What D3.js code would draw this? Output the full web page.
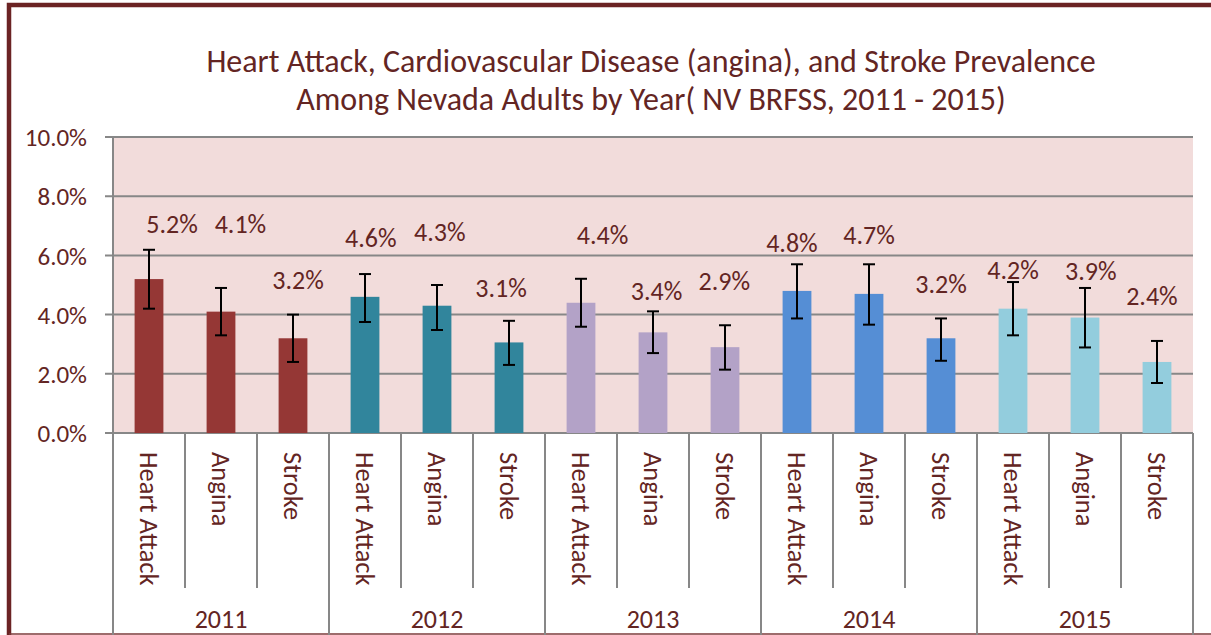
<!DOCTYPE html>
<meta charset="utf-8">
<html>
<head>
    <title>Heart Attack, Angina and Stroke Prevalence</title>
    <script src="https://cdn.jsdelivr.net/npm/d3@7"></script>
</head>
<style>
    body{
        margin: 0;
        background: #fff;
    }
    svg{
        display: block;
    }
    text{
        font-family: Carlito, Lato, sans-serif;
        fill: #632523;
    }
</style>
<body>
<svg width="1211" height="635"></svg>

<script>
    // ***************************************
    //        data
    // ***************************************
    const years = ["2011", "2012", "2013", "2014", "2015"];
    const measures = ["Heart Attack", "Angina", "Stroke"];
    const yearColors = ["#953735", "#31859c", "#b3a2c7", "#558ed5", "#93cddd"];
    // percent, in order year by year: Heart Attack, Angina, Stroke
    const prevalence = [5.2, 4.1, 3.2, 4.6, 4.3, 3.06, 4.4, 3.4, 2.9, 4.8, 4.7, 3.2, 4.2, 3.9, 2.4];
    const ciLow  = [4.2, 3.3, 2.4, 3.75, 3.48, 2.3, 3.59, 2.7, 2.14, 3.87, 3.66, 2.44, 3.3, 2.89, 1.69];
    const ciHigh = [6.19, 4.9, 4.0, 5.37, 5.0, 3.79, 5.21, 4.11, 3.64, 5.7, 5.7, 3.87, 5.1, 4.9, 3.11];
    // where each data label sits (percent level, shift across the band)
    const labelLevel = [6.77, 6.77, 4.87, 6.3, 6.5, 4.59, 6.4, 4.5, 4.84, 6.11, 6.4, 4.73, 5.2, 5.18, 4.31];
    const labelShift = [0.32, 0.27, 0.07, 0.08, 0.04, -0.11, 0.3, 0.05, -0.01, -0.07, 0, 0, 0, 0.08, -0.07];
    const yTicks = [0, 2, 4, 6, 8, 10];

    const rows = prevalence.map((v, i) => ({
        i: i,
        year: years[Math.floor(i / 3)],
        yi: Math.floor(i / 3),
        measure: measures[i % 3],
        value: v,
        lo: ciLow[i],
        hi: ciHigh[i]
    }));

    const svg = d3.select("svg");
    const plotL = 113, plotR = 1193, plotT = 137, plotB = 433;
    const grid = "#878787";
    const darkRed = "#632523";

    const x = d3.scaleBand()
        .domain(d3.range(rows.length))
        .range([plotL, plotR])
        .padding(0);
    const xYear = d3.scaleBand()
        .domain(years)
        .range([plotL, plotR])
        .padding(0);
    const y = d3.scaleLinear()
        .domain([0, 10])
        .range([plotB, plotT]);

    const barW = x.bandwidth() * 0.4;

    // outer frame
    svg.append("path")
        .attr("d", "M9,640 L9,5 L1215,5")
        .attr("fill", "none")
        .attr("stroke", "#6b2324")
        .attr("stroke-width", 4.5);
    svg.append("line")
        .attr("x1", 9).attr("x2", 1211)
        .attr("y1", 634).attr("y2", 634)
        .attr("stroke", "#7d3b3b")
        .attr("stroke-width", 1.5);

    // plot background
    svg.append("rect")
        .attr("x", plotL).attr("y", plotT)
        .attr("width", plotR - plotL).attr("height", plotB - plotT)
        .attr("fill", "#f2dcdb");

    // gridlines
    svg.append("g")
        .selectAll("line")
        .data(yTicks)
        .join("line")
        .attr("x1", plotL - 8).attr("x2", plotR)
        .attr("y1", d => y(d)).attr("y2", d => y(d))
        .attr("stroke", grid)
        .attr("stroke-width", 2);

    // y axis
    const yAxis = svg.append("g")
        .attr("transform", `translate(${plotL},0)`)
        .call(d3.axisLeft(y).tickValues(yTicks).tickSize(0).tickPadding(26)
            .tickFormat(d => d.toFixed(1) + "%"));
    yAxis.select(".domain").remove();
    yAxis.selectAll("text")
        .style("font-size", "25px")
        .attr("fill", darkRed)
        .attr("dy", "0.35em");

    svg.append("line")
        .attr("x1", plotL).attr("x2", plotL)
        .attr("y1", plotT).attr("y2", 635)
        .attr("stroke", grid)
        .attr("stroke-width", 2);

    // category separators
    svg.append("g")
        .selectAll("line")
        .data(d3.range(1, rows.length + 1))
        .join("line")
        .attr("x1", d => x(d - 1) + x.bandwidth())
        .attr("x2", d => x(d - 1) + x.bandwidth())
        .attr("y1", plotB)
        .attr("y2", d => d % 3 === 0 ? 635 : 588)
        .attr("stroke", grid)
        .attr("stroke-width", 2);

    // bars
    svg.append("g")
        .selectAll("rect")
        .data(rows)
        .join("rect")
        .attr("x", d => x(d.i) + (x.bandwidth() - barW) / 2)
        .attr("y", d => y(d.value))
        .attr("width", barW)
        .attr("height", d => y(0) - y(d.value))
        .attr("fill", d => yearColors[d.yi]);

    // error bars
    const err = svg.append("g")
        .attr("stroke", "#000")
        .attr("stroke-width", 2)
        .selectAll("g")
        .data(rows)
        .join("g")
        .attr("transform", d => `translate(${x(d.i) + x.bandwidth() / 2},0)`);
    err.append("line")
        .attr("y1", d => y(d.lo)).attr("y2", d => y(d.hi));
    err.append("line")
        .attr("x1", -6).attr("x2", 6)
        .attr("y1", d => y(d.hi)).attr("y2", d => y(d.hi));
    err.append("line")
        .attr("x1", -6).attr("x2", 6)
        .attr("y1", d => y(d.lo)).attr("y2", d => y(d.lo));

    // data labels
    svg.append("g")
        .selectAll("text")
        .data(rows)
        .join("text")
        .attr("x", d => x(d.i) + x.bandwidth() * (0.5 + labelShift[d.i]))
        .attr("y", d => y(labelLevel[d.i]))
        .attr("text-anchor", "middle")
        .style("font-size", "26px")
        .text(d => d3.format(".1f")(d.value) + "%");

    // category labels, rotated
    svg.append("g")
        .selectAll("text")
        .data(rows)
        .join("text")
        .attr("transform", d => `translate(${x(d.i) + x.bandwidth() / 2},452) rotate(90)`)
        .attr("dy", "0.35em")
        .style("font-size", "26.5px")
        .text(d => d.measure);

    // year labels
    svg.append("g")
        .selectAll("text")
        .data(years)
        .join("text")
        .attr("x", d => xYear(d) + xYear.bandwidth() / 2)
        .attr("y", 628)
        .attr("text-anchor", "middle")
        .style("font-size", "26px")
        .text(d => d);

    // title
    svg.append("text")
        .attr("x", 651).attr("y", 72)
        .attr("text-anchor", "middle")
        .style("font-size", "32px")
        .selectAll("tspan")
        .data(["Heart Attack, Cardiovascular Disease (angina), and Stroke Prevalence",
               "Among Nevada Adults by Year( NV BRFSS, 2011 - 2015)"])
        .join("tspan")
        .attr("x", 651)
        .attr("dy", (d, i) => i === 0 ? 0 : 38)
        .text(d => d);
</script>
</body>
</html>
